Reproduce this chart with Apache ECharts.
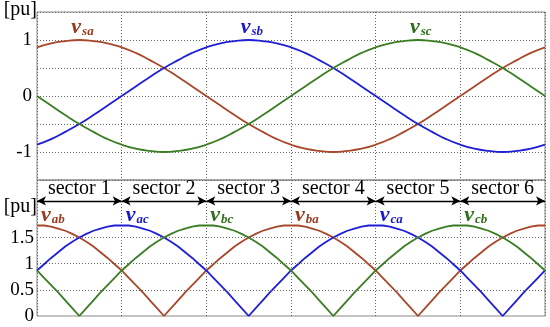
<!DOCTYPE html>
<html>
<head>
<meta charset="utf-8">
<script src="https://cdn.jsdelivr.net/npm/echarts@6/dist/echarts.min.js"></script>
<style>
  html, body { margin: 0; padding: 0; background: #fff; }
  #chart { width: 550px; height: 327px; }
</style>
</head>
<body>
<div id="chart"></div>
<script>
// phase voltages, read every 10 deg
const angles10 = [0,10,20,30,40,50,60,70,80,90,100,110,120,130,140,150,160,170,180,190,200,210,220,230,240,250,260,270,280,290,300,310,320,330,340,350,360];
const vsa = [0.87,0.94,0.98,1,0.98,0.94,0.87,0.77,0.64,0.5,0.34,0.17,0,-0.17,-0.34,-0.5,-0.64,-0.77,-0.87,-0.94,-0.98,-1,-0.98,-0.94,-0.87,-0.77,-0.64,-0.5,-0.34,-0.17,0,0.17,0.34,0.5,0.64,0.77,0.87];
const vsb = [-0.87,-0.77,-0.64,-0.5,-0.34,-0.17,0,0.17,0.34,0.5,0.64,0.77,0.87,0.94,0.98,1,0.98,0.94,0.87,0.77,0.64,0.5,0.34,0.17,0,-0.17,-0.34,-0.5,-0.64,-0.77,-0.87,-0.94,-0.98,-1,-0.98,-0.94,-0.87];
const vsc = [0,-0.17,-0.34,-0.5,-0.64,-0.77,-0.87,-0.94,-0.98,-1,-0.98,-0.94,-0.87,-0.77,-0.64,-0.5,-0.34,-0.17,0,0.17,0.34,0.5,0.64,0.77,0.87,0.94,0.98,1,0.98,0.94,0.87,0.77,0.64,0.5,0.34,0.17,0];

// line voltages (magnitude), read every 5 deg
const angles5 = [0,5,10,15,20,25,30,35,40,45,50,55,60,65,70,75,80,85,90,95,100,105,110,115,120,125,130,135,140,145,150,155,160,165,170,175,180,185,190,195,200,205,210,215,220,225,230,235,240,245,250,255,260,265,270,275,280,285,290,295,300,305,310,315,320,325,330,335,340,345,350,355,360];
const vab = [1.73,1.73,1.71,1.67,1.63,1.57,1.5,1.42,1.33,1.22,1.11,0.99,0.87,0.73,0.59,0.45,0.3,0.15,0,0.15,0.3,0.45,0.59,0.73,0.87,0.99,1.11,1.22,1.33,1.42,1.5,1.57,1.63,1.67,1.71,1.73,
             1.73,1.73,1.71,1.67,1.63,1.57,1.5,1.42,1.33,1.22,1.11,0.99,0.87,0.73,0.59,0.45,0.3,0.15,0,0.15,0.3,0.45,0.59,0.73,0.87,0.99,1.11,1.22,1.33,1.42,1.5,1.57,1.63,1.67,1.71,1.73,1.73];
const vac = [0.87,0.99,1.11,1.22,1.33,1.42,1.5,1.57,1.63,1.67,1.71,1.73,
             1.73,1.73,1.71,1.67,1.63,1.57,1.5,1.42,1.33,1.22,1.11,0.99,0.87,0.73,0.59,0.45,0.3,0.15,0,0.15,0.3,0.45,0.59,0.73,0.87,0.99,1.11,1.22,1.33,1.42,1.5,1.57,1.63,1.67,1.71,1.73,
             1.73,1.73,1.71,1.67,1.63,1.57,1.5,1.42,1.33,1.22,1.11,0.99,0.87,0.73,0.59,0.45,0.3,0.15,0,0.15,0.3,0.45,0.59,0.73,0.87];
const vbc = [0.87,0.73,0.59,0.45,0.3,0.15,0,0.15,0.3,0.45,0.59,0.73,0.87,0.99,1.11,1.22,1.33,1.42,1.5,1.57,1.63,1.67,1.71,1.73,
             1.73,1.73,1.71,1.67,1.63,1.57,1.5,1.42,1.33,1.22,1.11,0.99,0.87,0.73,0.59,0.45,0.3,0.15,0,0.15,0.3,0.45,0.59,0.73,0.87,0.99,1.11,1.22,1.33,1.42,1.5,1.57,1.63,1.67,1.71,1.73,
             1.73,1.73,1.71,1.67,1.63,1.57,1.5,1.42,1.33,1.22,1.11,0.99,0.87];

// curve labels (subscripts) and where their peaks sit
const topNames = ['sa', 'sb', 'sc'];
const topPeaks = [30, 150, 270];
const bottomNames = [['ab', 'ba'], ['ac', 'ca'], ['bc', 'cb']];
const bottomPeaks = [[0, 180], [60, 240], [120, 300]];

const sectorNames = ['sector 1', 'sector 2', 'sector 3', 'sector 4', 'sector 5', 'sector 6'];
const sectorEdges = [0, 60, 120, 180, 240, 300, 360];
const bottomGridLevels = [0.5, 1, 1.5];

const lineColors = ['#a9472a', '#1f1fd6', '#3a7d22'];
const labelColors = ['#9a3a1c', '#1a1ac8', '#2f6e1c'];
const serif = 'Liberation Serif';
const dotted = { color: '#666', type: [1, 2], width: 1 };

function pairs(xs, ys) {
    return xs.map((x, i) => [x, ys[i]]);
}

function curveLabel(color, dx, dy) {
    return {
        show: true,
        position: 'right',
        distance: 0,
        offset: [dx, dy],
        formatter: p => '{v|v}{s|' + p.name + '}',
        rich: {
            v: { fontFamily: serif, fontStyle: 'italic', fontWeight: 'bold', fontSize: 22, color: color },
            s: { fontFamily: serif, fontStyle: 'italic', fontWeight: 'bold', fontSize: 13, color: color,
                 verticalAlign: 'bottom', padding: [9, 0, 0, 1] }
        }
    };
}

const chart = echarts.init(document.getElementById('chart'), null, { renderer: 'canvas' });

const topSeries = [vsa, vsb, vsc].map((ys, k) => ({
    type: 'line',
    xAxisIndex: 0,
    yAxisIndex: 0,
    data: pairs(angles10, ys),
    smooth: true,
    showSymbol: false,
    lineStyle: { color: lineColors[k], width: 1.8 },
    markPoint: {
        symbol: 'circle',
        symbolSize: 0,
        silent: true,
        data: [{ name: topNames[k], coord: [topPeaks[k], 1] }],
        label: curveLabel(labelColors[k], -8, -13)
    }
}));

const bottomSeries = [vab, vac, vbc].map((ys, k) => ({
    type: 'line',
    xAxisIndex: 1,
    yAxisIndex: 1,
    data: pairs(angles5, ys),
    showSymbol: false,
    lineStyle: { color: lineColors[k], width: 1.8 },
    markPoint: {
        symbol: 'circle',
        symbolSize: 0,
        silent: true,
        data: bottomNames[k].map((n, j) => ({ name: n, coord: [bottomPeaks[k][j], 1.73] })),
        label: curveLabel(labelColors[k], 4, -10)
    }
}));

// dotted level lines in the lower plot + sector arrows
const guideSeries = {
    type: 'line',
    xAxisIndex: 1,
    yAxisIndex: 1,
    data: [],
    markLine: {
        silent: true,
        symbol: ['none', 'none'],
        label: { show: false },
        lineStyle: dotted,
        data: bottomGridLevels.map(v => ({ yAxis: v }))
    }
};

const sectorSeries = {
    type: 'line',
    xAxisIndex: 1,
    yAxisIndex: 1,
    data: [],
    markLine: {
        silent: true,
        symbol: ['arrow', 'arrow'],
        symbolSize: [7, 9],
        lineStyle: { color: '#000', type: 'solid', width: 1.3 },
        label: {
            show: true,
            position: 'insideMiddleTop',
            distance: 2,
            formatter: '{b}',
            fontFamily: serif,
            fontSize: 20,
            color: '#000'
        },
        data: sectorNames.map((n, i) => [
            { name: n, coord: [sectorEdges[i], 2.2] },
            { coord: [sectorEdges[i + 1], 2.2] }
        ])
    }
};

const option = {
    animation: false,
    backgroundColor: '#fff',
    grid: [
        { left: 37, right: 5, top: 12, height: 168, show: true, borderColor: '#888', borderWidth: 1 },
        { left: 37, right: 5, top: 180, bottom: 11, show: true, borderColor: '#888', borderWidth: 1 }
    ],
    xAxis: [
        {
            gridIndex: 0, type: 'value', min: 0, max: 360, interval: 60,
            axisLine: { show: false }, axisTick: { show: false }, axisLabel: { show: false },
            splitLine: { show: true, lineStyle: dotted }
        },
        {
            gridIndex: 1, type: 'value', min: 0, max: 360, interval: 60,
            axisLine: { show: false }, axisTick: { show: false }, axisLabel: { show: false },
            splitLine: { show: true, lineStyle: dotted }
        }
    ],
    yAxis: [
        {
            gridIndex: 0, type: 'value', min: -1.5, max: 1.5, interval: 0.5,
            name: '[pu]', nameLocation: 'end', nameGap: 2,
            nameTextStyle: { fontFamily: serif, fontSize: 20, color: '#000', align: 'right', verticalAlign: 'middle' },
            axisLine: { show: false }, axisTick: { show: false },
            axisLabel: {
                margin: 5, fontFamily: serif, fontSize: 19, color: '#000',
                formatter: v => (Number.isInteger(v) ? String(v) : '')
            },
            splitLine: { show: true, lineStyle: dotted }
        },
        {
            gridIndex: 1, type: 'value', min: 0, max: 2.6, interval: 0.5,
            name: '[pu]', nameLocation: 'end', nameGap: -27,
            nameTextStyle: { fontFamily: serif, fontSize: 20, color: '#000', align: 'right', verticalAlign: 'middle' },
            axisLine: { show: false }, axisTick: { show: false },
            axisLabel: {
                margin: 3, fontFamily: serif, fontSize: 19, color: '#000',
                formatter: v => (v <= 1.5 ? String(v) : '')
            },
            splitLine: { show: false }
        }
    ],
    series: [...topSeries, ...bottomSeries, guideSeries, sectorSeries]
};

chart.setOption(option);
</script>
</body>
</html>
